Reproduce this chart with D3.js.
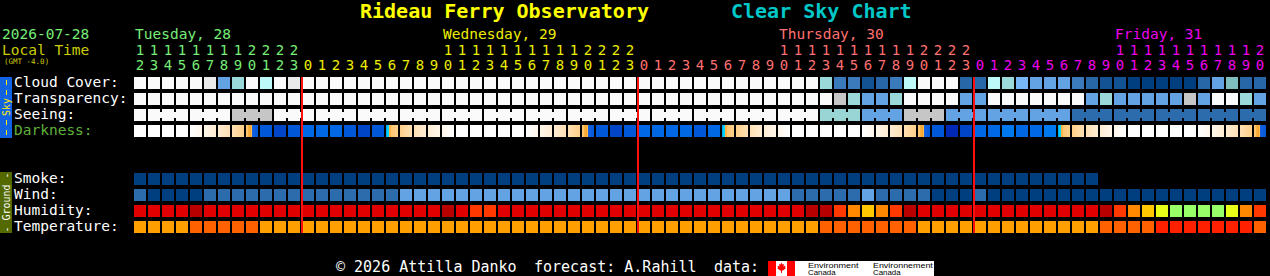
<!DOCTYPE html>
<html>
<head>
<meta charset="utf-8">
<script src="https://cdn.jsdelivr.net/npm/d3@7"></script>
<style>
body { margin: 0; background: #000; }
svg { display: block; }
</style>
</head>
<body>
<div class="thechart"></div>
<script>
// ---- data (one value per hour, Tue 12:00 .. Fri 20:00) ----
var dayNames = ["Tuesday, 28", "Wednesday, 29", "Thursday, 30", "Friday, 31"];
var firstHour = new Date(2026, 6, 28, 12);
var lastHour = new Date(2026, 6, 31, 20);
var hours = d3.timeHour.range(firstHour, d3.timeHour.offset(lastHour, 1));

var skyRows = ["Cloud Cover:", "Transparency:", "Seeing:", "Darkness:"];
var groundRows = ["Smoke:", "Wind:", "Humidity:", "Temperature:"];

// cloud cover in tenths (10 = overcast, 0 = clear)
var cloudCover = [
	10, 10, 10, 10, 10, 9, 4, 7, 10, 8, 10, 9,
	10, 10, 10, 10, 10, 10, 10, 10, 10, 10, 10, 10,
	10, 10, 10, 10, 10, 10, 10, 10, 10, 10, 10, 10,
	10, 10, 10, 10, 10, 10, 10, 10, 10, 10, 10, 10,
	10, 7, 3, 3, 1, 2, 3, 8, 10, 10, 10, 2,
	2, 8, 7, 5, 4, 4, 4, 3, 2, 1, 1, 0,
	0, 0, 0, 0, 2, 4, 6, 2, 2
];
// 0 too cloudy, 1 poor, 2 below avg, 3 average
var transparency = [
	0, 0, 0, 0, 0, 0, 0, 0, 0, 0, 0, 0,
	0, 0, 0, 0, 0, 0, 0, 0, 0, 0, 0, 0,
	0, 0, 0, 0, 0, 0, 0, 0, 0, 0, 0, 0,
	0, 0, 0, 0, 0, 0, 0, 0, 0, 0, 0, 0,
	0, 0, 1, 2, 3, 3, 2, 0, 0, 0, 0, 3,
	3, 0, 0, 0, 0, 0, 0, 0, 3, 2, 3, 3,
	3, 3, 3, 1, 3, 0, 0, 2, 3
];
// 0 too cloudy, 1 bad .. 4 good
var seeing = [
	0, 0, 0, 0, 0, 0, 0, 1, 1, 1, 0, 0,
	0, 0, 0, 0, 0, 0, 0, 0, 0, 0, 0, 0,
	0, 0, 0, 0, 0, 0, 0, 0, 0, 0, 0, 0,
	0, 0, 0, 0, 0, 0, 0, 0, 0, 0, 0, 0,
	0, 2, 2, 2, 3, 3, 3, 1, 1, 1, 3, 3,
	3, 3, 3, 3, 3, 3, 3, 4, 4, 4, 4, 4,
	4, 4, 4, 4, 4, 4, 4, 4, 4
];
// 0 day, 1-4 twilight glow, 5 sunset / sunrise, 6-11 night (6 moonlit .. 11 darkest)
var darkness = [
	0, 0, 0, 0, 1, 2, 3, 4, 5, 9, 10, 9,
	8, 8, 8, 9, 10, 9, 5, 4, 3, 2, 1, 0,
	0, 0, 0, 0, 1, 2, 3, 4, 5, 9, 10, 9,
	8, 8, 8, 8, 9, 8, 5, 4, 3, 2, 1, 0,
	0, 0, 0, 0, 1, 2, 3, 4, 5, 9, 11, 10,
	8, 8, 7, 8, 8, 7, 5, 4, 3, 2, 1, 0,
	0, 0, 0, 0, 1, 2, 3, 4, 5
];
// smoke forecast only runs to Fri 08:00
var smoke = [
	0, 0, 0, 0, 0, 0, 0, 0, 0, 0, 0, 0,
	0, 0, 0, 0, 0, 0, 0, 0, 0, 0, 0, 0,
	0, 0, 0, 0, 0, 0, 0, 0, 0, 0, 0, 0,
	0, 0, 0, 0, 0, 0, 0, 0, 0, 0, 0, 0,
	0, 0, 0, 0, 0, 0, 0, 0, 0, 0, 0, 0,
	0, 0, 0, 0, 0, 0, 0, 0, 0
];
// 0: 0-5 mph, 1: 6-11 mph, 2: 12-16 mph
var wind = [
	1, 0, 0, 0, 0, 1, 1, 1, 1, 1, 1, 1,
	1, 1, 1, 1, 1, 1, 1, 2, 2, 2, 2, 2,
	2, 2, 2, 2, 2, 2, 2, 2, 2, 2, 2, 2,
	2, 2, 2, 2, 2, 2, 2, 2, 2, 2, 2, 1,
	1, 1, 1, 1, 2, 1, 1, 1, 1, 0, 0, 0,
	1, 0, 0, 0, 0, 0, 0, 0, 0, 0, 0, 0,
	0, 0, 0, 0, 0, 0, 0, 0, 0
];
// humidity band, 0 driest (green) .. 6 wettest (dark red)
var humidity = [
	5, 5, 5, 5, 6, 5, 5, 5, 5, 5, 5, 5,
	5, 5, 5, 5, 5, 5, 5, 5, 5, 5, 6, 5,
	4, 4, 5, 5, 5, 5, 5, 5, 5, 5, 5, 5,
	5, 5, 5, 5, 5, 5, 5, 5, 5, 5, 5, 5,
	6, 6, 4, 3, 2, 3, 4, 6, 5, 5, 5, 5,
	5, 5, 5, 5, 5, 5, 5, 5, 5, 6, 4, 3,
	2, 1, 0, 0, 0, 0, 1, 3, 4
];
// temperature band, 0 coolest .. 2 warmest
var temperature = [
	0, 0, 0, 0, 1, 1, 1, 1, 1, 0, 0, 0,
	0, 0, 0, 0, 0, 0, 0, 0, 0, 0, 0, 0,
	0, 0, 0, 0, 0, 0, 0, 0, 0, 0, 0, 0,
	0, 0, 0, 0, 0, 0, 0, 0, 0, 0, 0, 0,
	0, 1, 1, 1, 1, 1, 1, 1, 0, 0, 0, 0,
	0, 0, 0, 0, 0, 0, 0, 0, 0, 1, 1, 1,
	1, 2, 2, 2, 2, 2, 2, 2, 1
];

// ---- colours ----
var cloudColors = ["#003f7f", "#135393", "#2767a7", "#3b7bbb", "#63a3e3", "#77b7f7",
                   "#7ebebe", "#9ad9d9", "#bdf9f9", "#eaeaea", "#fafafa"];
var transpColors = ["#fafafa", "#c6c6c6", "#99d9d9", "#63a3e3"];
var seeingColors = ["#fafafa", "#c6c6c6", "#99d5d5", "#63a3e3", "#2c6cac"];
var twilight = ["#ffffff", "#fff6ea", "#ffecd2", "#ffe0b4", "#ffd08a"];
var nightColors = {6: "#0090ff", 7: "#0078f0", 8: "#0068e4", 9: "#0058d8", 10: "#0044c8", 11: "#0028b4"};
var smokeColors = ["#003f7f"];
var windColors = ["#003f7f", "#2c6cac", "#63a3e3"];
var humidColors = ["#98ff68", "#e8ff18", "#ffc800", "#ff8800", "#ff3800", "#e00000", "#b80000"];
var tempColors = ["#ffa000", "#ff6000", "#ff2000"];
var dayColors = ["#77ee77", "#eeee00", "#ff7070", "#ee00ee"];

var mono = "'DejaVu Sans Mono', monospace";

var w = 1270;
var h = 276;
var svg = d3.select(".thechart").append("svg")
	.attr("width", w)
	.attr("height", h)
	;
svg.append("rect").attr("width", w).attr("height", h).attr("fill", "#000");
var defs = svg.append("defs");

var x = d3.scaleBand()
	.domain(hours)
	.range([134, 1266])
	.paddingInner(2 / 14)
	.paddingOuter(0);
var skyY = d3.scaleBand().domain(skyRows).range([77, 137]).paddingInner(0.25);
var groundY = d3.scaleBand().domain(groundRows).range([173, 233]).paddingInner(0.25);

var dayIndex = function(t) {
	return d3.timeDay.count(d3.timeDay.floor(firstHour), t);
};

var drawRow = function(values, y0, height, fill) {
	svg.append("g")
	.selectAll("rect")
	.data(values)
	.enter()
	.append("rect")
	.attr("x", function(d, i) { return x(hours[i]); })
	.attr("y", y0)
	.attr("width", x.bandwidth())
	.attr("height", height)
	.attr("fill", fill)
	;
};

// ---- titles ----
svg.append("text")
	.text("Rideau Ferry Observatory")
	.attr("x", 360).attr("y", 18)
	.attr("font-family", mono).attr("font-size", "20px").attr("font-weight", "bold")
	.attr("fill", "#ffff00");
svg.append("text")
	.text("Clear Sky Chart")
	.attr("x", 731).attr("y", 18)
	.attr("font-family", mono).attr("font-size", "20px").attr("font-weight", "bold")
	.attr("fill", "#00c8c8");

svg.append("text").text("2026-07-28")
	.attr("x", 2).attr("y", 39)
	.attr("font-family", mono).attr("font-size", "14.5px").attr("fill", "#77ee77");
svg.append("text").text("Local Time")
	.attr("x", 2).attr("y", 55)
	.attr("font-family", mono).attr("font-size", "14.5px").attr("fill", "#cccc00");
svg.append("text").text("(GMT -4.0)")
	.attr("x", 4).attr("y", 64)
	.attr("font-family", mono).attr("font-size", "7.5px").attr("fill", "#cccc00");

// day names sit over the 10 o'clock column (or the first column)
var dayStarts = hours.filter(function(t, i) {
	return i === 0 || (t.getHours() === 10 && dayIndex(t) > 0);
});
svg.append("g")
	.selectAll("text")
	.data(dayStarts)
	.enter()
	.append("text")
	.text(function(t) { return dayNames[dayIndex(t)]; })
	.attr("x", function(t) { return x(t) + 1; })
	.attr("y", 39)
	.attr("font-family", mono)
	.attr("font-size", "14.5px")
	.attr("fill", function(t) { return dayColors[dayIndex(t)]; })
	;

// hour digits
svg.append("g")
	.selectAll("text")
	.data(hours.filter(function(t) { return t.getHours() >= 10; }))
	.enter()
	.append("text")
	.text(function(t) { return Math.floor(t.getHours() / 10); })
	.attr("x", function(t) { return x(t) + x.bandwidth() / 2; })
	.attr("y", 55)
	.attr("text-anchor", "middle")
	.attr("font-family", mono)
	.attr("font-size", "14px")
	.attr("fill", function(t) { return dayColors[dayIndex(t)]; })
	;
svg.append("g")
	.selectAll("text")
	.data(hours)
	.enter()
	.append("text")
	.text(function(t) { return t.getHours() % 10; })
	.attr("x", function(t) { return x(t) + x.bandwidth() / 2; })
	.attr("y", 70)
	.attr("text-anchor", "middle")
	.attr("font-family", mono)
	.attr("font-size", "14px")
	.attr("fill", function(t) { return dayColors[dayIndex(t)]; })
	;

// ---- row labels ----
svg.append("g")
	.selectAll("text")
	.data(skyRows.concat(groundRows))
	.enter()
	.append("text")
	.text(function(d) { return d; })
	.attr("x", 14)
	.attr("y", function(d) {
		return (skyRows.indexOf(d) >= 0 ? skyY(d) : groundY(d)) + 10;
	})
	.attr("font-family", mono)
	.attr("font-size", "14.5px")
	.attr("fill", function(d) { return d === "Darkness:" ? "#5fb03a" : "#ffffff"; })
	;

// side bars
svg.append("rect").attr("x", 0).attr("y", 77).attr("width", 12).attr("height", 61).attr("fill", "#1262e4");
[[80, 85], [90, 95], [120, 125], [130, 135]].forEach(function(s) {
	svg.append("line")
		.attr("x1", 6.5).attr("x2", 6.5).attr("y1", s[0]).attr("y2", s[1])
		.attr("stroke", "#ffee00").attr("stroke-width", 1);
});
svg.append("text").text("Sky")
	.attr("transform", "translate(9.5,107) rotate(-90)")
	.attr("text-anchor", "middle")
	.attr("font-family", mono).attr("font-size", "10px").attr("fill", "#ffee00");

svg.append("rect").attr("x", 0).attr("y", 172).attr("width", 12).attr("height", 61).attr("fill", "#546a00");
svg.append("text").text("- Ground -")
	.attr("transform", "translate(9.5,202.5) rotate(-90)")
	.attr("text-anchor", "middle")
	.attr("font-family", mono).attr("font-size", "10px").attr("fill", "#ffffff");

// ---- sky rows ----
drawRow(cloudCover, skyY("Cloud Cover:"), skyY.bandwidth(), function(d) { return cloudColors[d]; });
drawRow(transparency, skyY("Transparency:"), skyY.bandwidth(), function(d) { return transpColors[d]; });

// seeing: cells of one 3-hour block are joined
var seeY = skyY("Seeing:");
drawRow(seeing, seeY, skyY.bandwidth(), function(d) { return seeingColors[d]; });
svg.append("g")
	.selectAll("rect")
	.data(hours.slice(0, -1).filter(function(t, i) { return hours[i + 1].getHours() % 3 !== 1; }))
	.enter()
	.append("rect")
	.attr("x", function(t) { return x(t) + x.bandwidth(); })
	.attr("y", seeY + 3)
	.attr("width", x.step() - x.bandwidth())
	.attr("height", 6)
	.attr("fill", function(t) { return seeingColors[seeing[hours.indexOf(t)]]; })
	;

// darkness: twilight cells get a gradient, sunset/sunrise get the glow strip
var sunsetStops = [[0, "#ffc878"], [0.17, "#ffc060"], [0.17, "#f5b040"], [0.3, "#f5b040"], [0.3, "#ffa020"],
                   [0.4, "#ffa020"], [0.4, "#f8c050"], [0.5, "#f8c050"], [0.5, "#1a62e2"], [1, "#0058d8"]];
var sunriseStops = [[0, "#0a70f0"], [0.06, "#00c8f8"], [0.22, "#00d8ff"], [0.22, "#ffb040"],
                    [0.38, "#ffb848"], [0.38, "#ffc470"], [1, "#ffd08a"]];
darkness.forEach(function(d, i) {
	var stops = null;
	if (d === 5) {
		stops = (i > 0 && darkness[i - 1] >= 6) ? sunriseStops : sunsetStops;
	} else if (d >= 1 && d <= 4) {
		var rising = i + 1 < darkness.length && darkness[i + 1] > d;
		stops = rising ? [[0, twilight[d - 1]], [1, twilight[d]]] : [[0, twilight[d]], [1, twilight[d - 1]]];
	}
	if (stops) {
		var g = defs.append("linearGradient").attr("id", "dk" + i)
			.attr("x1", 0).attr("x2", 1).attr("y1", 0).attr("y2", 0);
		stops.forEach(function(s) {
			g.append("stop").attr("offset", s[0]).attr("stop-color", s[1]);
		});
	}
});
drawRow(darkness, skyY("Darkness:"), skyY.bandwidth(), function(d, i) {
	if (d === 0) return "#ffffff";
	if (d >= 6) return nightColors[d];
	return "url(#dk" + i + ")";
});

// ---- ground rows ----
drawRow(smoke, groundY("Smoke:"), groundY.bandwidth(), function(d) { return smokeColors[d]; });
drawRow(wind, groundY("Wind:"), groundY.bandwidth(), function(d) { return windColors[d]; });
drawRow(humidity, groundY("Humidity:"), groundY.bandwidth(), function(d) { return humidColors[d]; });
drawRow(temperature, groundY("Temperature:"), groundY.bandwidth(), function(d) { return tempColors[d]; });

// midnight lines
svg.append("g")
	.selectAll("rect")
	.data(hours.filter(function(t) { return t.getHours() === 0; }))
	.enter()
	.append("rect")
	.attr("x", function(t) { return x(t) - 1; })
	.attr("y", 77)
	.attr("width", 2)
	.attr("height", 156)
	.attr("fill", "#ff1010")
	;

// ---- footer ----
var foot = [["\u00a9 2026 Attilla Danko", 336], ["forecast: A.Rahill", 534], ["data:", 714]];
svg.append("g")
	.selectAll("text")
	.data(foot)
	.enter()
	.append("text")
	.text(function(d) { return d[0]; })
	.attr("x", function(d) { return d[1]; })
	.attr("y", 272)
	.attr("font-family", mono)
	.attr("font-size", "15px")
	.attr("fill", "#ffffff")
	;

// Environment Canada badge
var logo = svg.append("g");
logo.append("rect").attr("x", 768).attr("y", 261).attr("width", 166).attr("height", 15).attr("fill", "#ffffff");
logo.append("rect").attr("x", 768).attr("y", 261).attr("width", 8).attr("height", 15).attr("fill", "#ff0000");
logo.append("rect").attr("x", 787).attr("y", 261).attr("width", 8).attr("height", 15).attr("fill", "#ff0000");
logo.append("polygon")
	.attr("points", "781.5,262.5 782.5,264.5 784,264 783.5,266.5 785.5,265.5 785,267.5 786,268 783,270.5 " +
		"782,270.5 782,273 781,273 781,270.5 780,270.5 777,268 778,267.5 777.5,265.5 779.5,266.5 779,264 780.5,264.5")
	.attr("fill", "#ff0000");
[["Environment", 808, 267.5], ["Canada", 808, 274.5], ["Environnement", 873, 267.5], ["Canada", 873, 274.5]].forEach(function(d) {
	logo.append("text").text(d[0])
		.attr("x", d[1]).attr("y", d[2])
		.attr("font-family", "'Liberation Sans', sans-serif")
		.attr("font-size", "8px")
		.attr("textLength", d[0].length * 4.6)
		.attr("lengthAdjust", "spacingAndGlyphs")
		.attr("fill", "#000000");
});
</script>
</body>
</html>
